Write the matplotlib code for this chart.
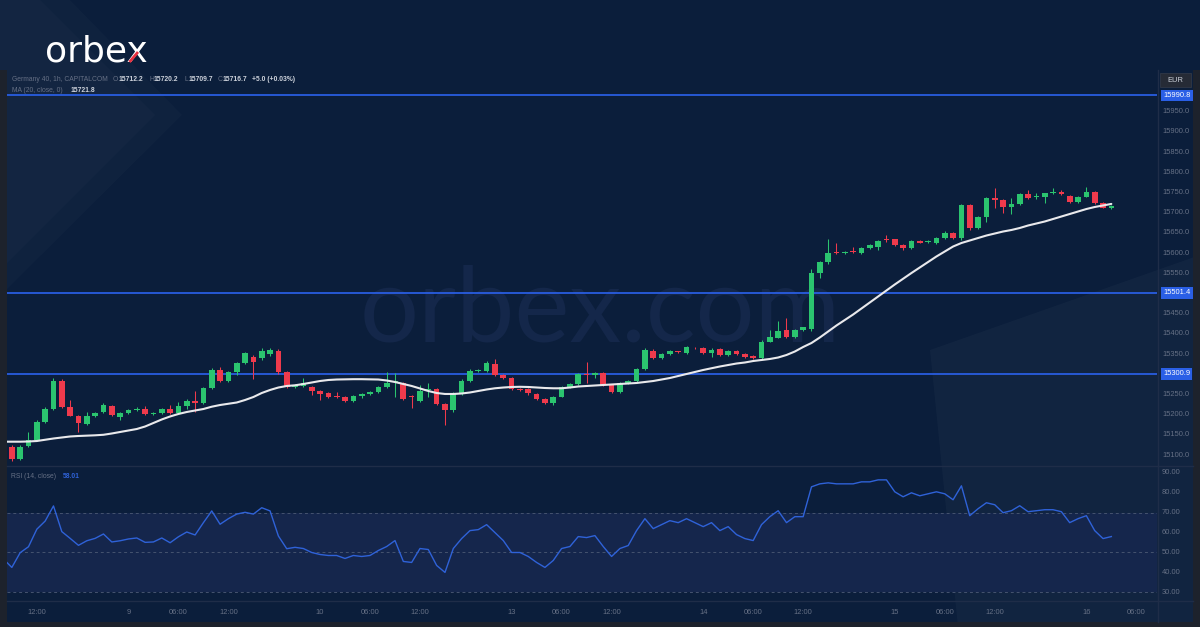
import matplotlib
matplotlib.use("Agg")
import matplotlib.pyplot as plt
import matplotlib.transforms as mtransforms
from matplotlib.patches import Polygon, Rectangle

# ---------------- data (hourly bars, index -1 .. 132) ----------------
bar_index = list(range(-1, 133))
opens = [15090, 15119, 15090, 15122, 15137, 15183, 15214, 15284, 15220, 15198,
         15176, 15197, 15206, 15222, 15195, 15204, 15212, 15214, 15202, 15204,
         15214, 15204, 15222, 15235, 15228, 15265, 15310, 15284, 15307, 15327,
         15343, 15340, 15350, 15358, 15305, 15269, 15271, 15268, 15259, 15253,
         15246, 15243, 15234, 15247, 15251, 15256, 15269, 15280, 15279, 15246,
         15235, 15261, 15263, 15227, 15212, 15253, 15284, 15309, 15309, 15326,
         15298, 15290, 15264, 15263, 15251, 15240, 15228, 15245, 15269, 15275,
         15300, 15298, 15304, 15274, 15257, 15278, 15284, 15312, 15359, 15341,
         15350, 15356, 15352, 15365, 15364, 15352, 15362, 15348, 15358, 15350,
         15345, 15341, 15381, 15391, 15410, 15393, 15410, 15412, 15552, 15577,
         15602, 15601, 15604, 15601, 15612, 15614, 15634, 15634, 15620, 15612,
         15630, 15627, 15626, 15637, 15649, 15638, 15719, 15663, 15690, 15736,
         15732, 15714, 15721, 15746, 15739, 15738, 15748, 15752, 15742, 15727,
         15740, 15751, 15723, 15712.2]
highs = [15125, 15124, 15124, 15157, 15187, 15218, 15290, 15288, 15236, 15200,
         15206, 15207, 15230, 15225, 15207, 15215, 15218, 15222, 15206, 15216,
         15224, 15232, 15238, 15259, 15268, 15315, 15318, 15309, 15330, 15356,
         15348, 15364, 15364, 15362, 15308, 15276, 15291, 15272, 15262, 15256,
         15257, 15246, 15249, 15253, 15258, 15272, 15305, 15303, 15282, 15249,
         15274, 15279, 15266, 15230, 15256, 15288, 15312, 15313, 15332, 15338,
         15302, 15293, 15267, 15265, 15254, 15242, 15247, 15272, 15278, 15304,
         15331, 15306, 15307, 15276, 15282, 15287, 15316, 15364, 15362, 15352,
         15361, 15359, 15371, 15368, 15367, 15364, 15365, 15361, 15360, 15352,
         15347, 15384, 15410, 15433, 15439, 15412, 15418, 15560, 15580, 15634,
         15626, 15605, 15616, 15615, 15622, 15633, 15645, 15636, 15622, 15632,
         15633, 15632, 15640, 15655, 15652, 15722, 15722, 15692, 15740, 15761,
         15734, 15736, 15749, 15756, 15750, 15750, 15761, 15756, 15744, 15742,
         15764, 15753, 15726, 15720.2]
lows = [15085, 15086, 15087, 15120, 15135, 15180, 15212, 15216, 15196, 15158,
        15174, 15195, 15204, 15197, 15188, 15202, 15210, 15200, 15200, 15202,
        15201, 15201, 15214, 15207, 15226, 15263, 15282, 15282, 15298, 15325,
        15289, 15336, 15346, 15300, 15266, 15265, 15268, 15249, 15237, 15242,
        15241, 15232, 15231, 15241, 15249, 15254, 15267, 15245, 15236, 15217,
        15232, 15245, 15224, 15175, 15208, 15250, 15282, 15306, 15307, 15296,
        15288, 15261, 15259, 15250, 15237, 15226, 15225, 15243, 15267, 15273,
        15278, 15290, 15271, 15254, 15255, 15276, 15282, 15310, 15339, 15337,
        15348, 15352, 15350, 15362, 15350, 15343, 15346, 15346, 15347, 15341,
        15339, 15339, 15379, 15389, 15391, 15390, 15407, 15408, 15538, 15574,
        15599, 15598, 15601, 15598, 15610, 15609, 15628, 15618, 15609, 15610,
        15624, 15624, 15622, 15635, 15634, 15633, 15657, 15660, 15678, 15711,
        15700, 15696, 15719, 15734, 15733, 15725, 15746, 15743, 15725, 15725,
        15738, 15721, 15711, 15709.7]
closes = [15120, 15090, 15121, 15137, 15183, 15214, 15284, 15218, 15198, 15179,
          15198, 15205, 15224, 15199, 15205, 15212, 15214, 15202, 15205, 15214,
          15204, 15222, 15235, 15228, 15265, 15310, 15284, 15307, 15327, 15352,
          15331, 15358, 15360, 15305, 15269, 15274, 15278, 15260, 15251, 15245,
          15245, 15234, 15247, 15251, 15256, 15269, 15279, 15281, 15238, 15245,
          15259, 15262, 15227, 15212, 15253, 15284, 15309, 15311, 15329, 15298,
          15290, 15264, 15262, 15253, 15240, 15228, 15245, 15269, 15275, 15300,
          15298, 15303, 15274, 15257, 15278, 15284, 15312, 15360, 15341, 15350,
          15358, 15355, 15368, 15364, 15352, 15361, 15348, 15358, 15350, 15344,
          15341, 15381, 15392, 15408, 15393, 15410, 15416, 15552, 15577, 15601,
          15601, 15602, 15603, 15612, 15620, 15630, 15633, 15620, 15612, 15630,
          15626, 15628, 15637, 15649, 15637, 15719, 15663, 15689, 15737, 15732,
          15714, 15721, 15746, 15737, 15740, 15748, 15752, 15746, 15727, 15740,
          15751, 15723, 15711.7, 15716.7]
ma20 = [15133.3, 15133.3, 15133.3, 15133.8, 15135.0, 15138.2, 15141.2, 15143.7, 15146.2, 15147.4,
        15148.2, 15149.1, 15150.4, 15153.6, 15157.3, 15161.0, 15164.7, 15170.9, 15179.6, 15188.3,
        15195.7, 15201.9, 15206.8, 15210.5, 15214.2, 15219.9, 15224.1, 15227.1, 15230.3, 15236.5,
        15243.9, 15253.8, 15261.3, 15267.4, 15271.2, 15272.9, 15276.1, 15279.8, 15283.5, 15286.0,
        15287.2, 15287.7, 15288.0, 15288.0, 15287.7, 15287.2, 15284.8, 15281.0, 15276.1, 15271.2,
        15264.9, 15258.8, 15253.8, 15251.4, 15251.4, 15252.6, 15255.1, 15258.8, 15262.5, 15265.5,
        15267.4, 15268.7, 15269.2, 15268.7, 15267.4, 15266.2, 15265.5, 15265.5, 15267.4, 15269.9,
        15271.2, 15272.4, 15273.6, 15274.9, 15276.1, 15277.3, 15278.6, 15281.0, 15283.5, 15287.2,
        15290.9, 15295.9, 15300.9, 15305.8, 15310.8, 15315.0, 15319.4, 15323.1, 15326.8, 15329.3,
        15333.0, 15335.5, 15338.0, 15341.7, 15347.9, 15356.5, 15367.7, 15377.6, 15391.2, 15406.0,
        15420.9, 15434.5, 15448.1, 15463.0, 15477.8, 15492.7, 15507.5, 15522.4, 15536.7, 15550.8,
        15564.4, 15578.0, 15591.7, 15604.0, 15616.4, 15625.1, 15631.3, 15637.4, 15643.6, 15648.6,
        15653.5, 15657.3, 15662.2, 15668.4, 15673.3, 15678.3, 15684.5, 15690.7, 15696.8, 15703.0,
        15709.2, 15714.2, 15717.9, 15721.8]
rsi14 = [46.7, 42.5, 49.9, 52.9, 61.7, 65.8, 73.4, 60.5, 57.1, 53.6,
         55.9, 57.1, 59.3, 55.3, 55.9, 56.8, 57.3, 55.1, 55.3, 57.3,
         54.9, 57.9, 60.3, 58.8, 65.0, 70.9, 64.2, 67.0, 69.3, 70.2,
         69.3, 72.5, 70.9, 58.3, 51.9, 52.6, 52.0, 50.0, 49.0, 48.5,
         48.5, 47.0, 48.5, 48.0, 48.5, 51.0, 53.0, 56.0, 45.5, 45.0,
         52.0, 51.5, 43.5, 40.0, 52.0, 57.0, 61.0, 61.5, 64.0, 60.0,
         56.0, 50.0, 50.0, 48.0, 45.0, 42.5, 46.0, 52.0, 53.0, 58.0,
         57.5, 58.5, 53.0, 48.0, 52.0, 53.5, 61.0, 67.0, 62.0, 64.0,
         66.0, 65.0, 67.0, 65.0, 63.0, 65.0, 61.0, 63.0, 59.0, 57.0,
         56.0, 64.0, 68.0, 71.0, 65.0, 68.0, 68.0, 83.0, 84.5, 85.0,
         84.5, 84.5, 84.5, 85.5, 85.5, 86.5, 86.5, 80.5, 78.0, 80.0,
         78.5, 79.5, 80.5, 79.5, 76.5, 83.5, 68.5, 72.0, 75.0, 74.0,
         70.0, 71.0, 73.5, 70.5, 71.0, 71.5, 71.5, 70.5, 65.0, 67.0,
         68.5, 61.0, 57.0, 58.01]
levels = [15990.8, 15501.4, 15300.9]
price_ticks = [15950, 15900, 15850, 15800, 15750, 15700, 15650, 15600, 15550,
               15450, 15400, 15350, 15250, 15200, 15150, 15100]
rsi_ticks = [90, 80, 70, 60, 50, 40, 30]
rsi_band = [30, 70]
rsi_dashes = [70, 50, 30]
time_tick_bars = [3, 14, 20, 26, 37, 43, 49, 60, 66, 72, 83, 89, 95, 106, 112, 118, 129, 135]
time_tick_labels = ["12:00", "9", "06:00", "12:00", "10", "06:00", "12:00", "13", "06:00",
                    "12:00", "14", "06:00", "12:00", "15", "06:00", "12:00", "16", "06:00"]
symbol_text = "Germany 40, 1h, CAPITALCOM"
ma_text = "MA (20, close, 0)"
rsi_text = "RSI (14, close)"
currency = "EUR"

# ---------------- style ----------------
W, H = 1200, 627
NAVY = "#0b1e3b"
GREEN = "#2bc46f"
RED = "#ef3a4c"
BLUE = "#2a5fe6"
GRAY_TXT = "#667085"
LIGHT_TXT = "#cdd2db"
SEP = "#1f2d48"
FRAME = "#1d222c"
FONT = "Liberation Sans"
FS = 5.4
FSH = 4.85

fig = plt.figure(figsize=(W / 100, H / 100), dpi=100)
fig.patch.set_facecolor(NAVY)


def rect(x0, y0, x1, y1):
    return [x0 / W, 1 - y1 / H, (x1 - x0) / W, (y1 - y0) / H]


# background decoration layer (pixel coordinates, y downwards)
bg = fig.add_axes([0, 0, 1, 1])
bg.set_xlim(0, W)
bg.set_ylim(H, 0)
bg.axis("off")
bg.set_zorder(0)
bg.add_patch(Polygon([(0, 0), (40, 0), (155, 115), (0, 270)], closed=True,
                     fc="white", alpha=0.035, ec="none"))
bg.add_patch(Polygon([(40, 0), (70, 0), (182, 115), (0, 296), (0, 270), (155, 115)],
                     closed=True, fc="white", alpha=0.018, ec="none"))
bg.add_patch(Polygon([(930, 350), (1200, 255), (1200, 627), (958, 627)], closed=True,
                     fc="white", alpha=0.028, ec="none"))
bg.text(600, 342, "orbex.com", ha="center", va="baseline", fontsize=75,
        family="Lato", color="#14274a")

# price pane
ax = fig.add_axes(rect(7, 70, 1157, 465))
ax.set_zorder(1)
ax.set_facecolor("none")
x_lo, x_hi = -0.58, 137.48
ax.set_xlim(x_lo, x_hi)
ax.set_ylim(15075.6, 16053.3)
ax.axis("off")

cols = [GREEN if c >= o else RED for o, c in zip(opens, closes)]
bottoms = [min(o, c) for o, c in zip(opens, closes)]
heights = [max(abs(c - o), 2.4) for o, c in zip(opens, closes)]
ax.vlines(bar_index, lows, highs, colors=cols, lw=0.75, zorder=2)
ax.bar(bar_index, heights, bottom=bottoms, width=0.68, color=cols, lw=0, zorder=3)
ax.plot(bar_index, ma20, color="#e9e9ec", lw=1.5, zorder=4, solid_capstyle="round")
for lv in levels:
    ax.axhline(lv, color=BLUE, lw=1.25, zorder=1)

# RSI pane
axr = fig.add_axes(rect(7, 465, 1157, 600))
axr.set_zorder(1)
axr.set_facecolor("none")
axr.set_xlim(x_lo, x_hi)
axr.set_ylim(26.13, 93.97)
axr.axis("off")
axr.axhspan(rsi_band[0], rsi_band[1], color="#15264c", lw=0, zorder=0)
for lv in rsi_dashes:
    axr.axhline(lv, color="#45536f", lw=0.7, ls=(0, (3, 3)), zorder=1)
axr.plot(bar_index, rsi14, color="#2f62d8", lw=1.0, zorder=3)

# overlay (frame, scales, texts)
ov = fig.add_axes([0, 0, 1, 1])
ov.set_xlim(0, W)
ov.set_ylim(H, 0)
ov.axis("off")
ov.set_zorder(5)
ov.patch.set_alpha(0)

ov.add_patch(Rectangle((0, 70), 6.5, 557, fc=FRAME, ec="none"))
ov.add_patch(Rectangle((1193, 70), 7, 557, fc=FRAME, ec="none"))
ov.add_patch(Rectangle((0, 622), 1200, 5, fc=FRAME, ec="none"))
ov.plot([6.5, 1193], [465.5, 465.5], color=SEP, lw=1.0)
ov.plot([6.5, 1193], [600.5, 600.5], color=SEP, lw=1.0)
ov.plot([1157.5, 1157.5], [70, 622], color=SEP, lw=1.0)

tp = mtransforms.blended_transform_factory(ov.transData, ax.transData)
tr = mtransforms.blended_transform_factory(ov.transData, axr.transData)
tx = mtransforms.blended_transform_factory(axr.transData, ov.transData)

for p in price_ticks:
    ov.text(1162, p, f"{p:.1f}", transform=tp, ha="left", va="center",
            fontsize=FS, family=FONT, color=GRAY_TXT)
for lv in levels:
    ov.text(1163, lv, f"{lv:.1f}", transform=tp, ha="left", va="center",
            fontsize=FS, family=FONT, color="white",
            bbox=dict(boxstyle="square,pad=0.3", fc=BLUE, ec="none"))
for r in rsi_ticks:
    ov.text(1162, r, f"{r:.2f}", transform=tr, ha="left", va="center",
            fontsize=FS, family=FONT, color=GRAY_TXT)
for b, lab in zip(time_tick_bars, time_tick_labels):
    ov.text(b, 613, lab, transform=tx, ha="center", va="center",
            fontsize=FS, family=FONT, color=GRAY_TXT)

ov.add_patch(Rectangle((1160, 73), 31, 14, fc="#262b36", ec="#363c4a", lw=0.5))
ov.text(1175.5, 80, currency, ha="center", va="center", fontsize=FS,
        family=FONT, color=LIGHT_TXT)

# legend texts
y1, y2 = 79.5, 90
ov.text(11.5, y1, symbol_text, ha="left", va="center", fontsize=FSH, family=FONT, color=GRAY_TXT)
ohlc_x = [(113, 118.5), (149, 154), (184.5, 189), (217.5, 222.5)]
ohlc_v = [opens[-1], highs[-1], lows[-1], closes[-1]]
for (xl, xv), letter, v in zip(ohlc_x, "OHLC", ohlc_v):
    ov.text(xl, y1, letter, ha="left", va="center", fontsize=FSH, family=FONT, color=GRAY_TXT)
    ov.text(xv, y1, f"{v:.1f}", ha="left", va="center", fontsize=FSH, family=FONT,
            color=LIGHT_TXT, weight="bold")
chg = closes[-1] - closes[-2]
ov.text(252.5, y1, f"{chg:+.1f} ({chg / closes[-2] * 100:+.2f}%)", ha="left", va="center",
        fontsize=FSH, family=FONT, color=LIGHT_TXT, weight="bold")
ov.text(11.5, y2, ma_text, ha="left", va="center", fontsize=FSH, family=FONT, color=GRAY_TXT)
ov.text(70.5, y2, f"{ma20[-1]:.1f}", ha="left", va="center", fontsize=FSH, family=FONT,
        color=LIGHT_TXT, weight="bold")
ov.text(11, 476, rsi_text, ha="left", va="center", fontsize=FSH, family=FONT, color=GRAY_TXT)
ov.text(62.5, 476, f"{rsi14[-1]:.2f}", ha="left", va="center", fontsize=FSH, family=FONT,
        color="#2f62d8", weight="bold")

# logo
ov.text(45, 62, "orbex", ha="left", va="baseline", fontsize=26, family="DejaVu Sans",
        color="white", zorder=3)
ov.plot([138, 129.5], [52, 62], color="#e8303f", lw=2.0, solid_capstyle="butt", zorder=6)

fig.savefig("out.png", dpi=100, facecolor=NAVY)
